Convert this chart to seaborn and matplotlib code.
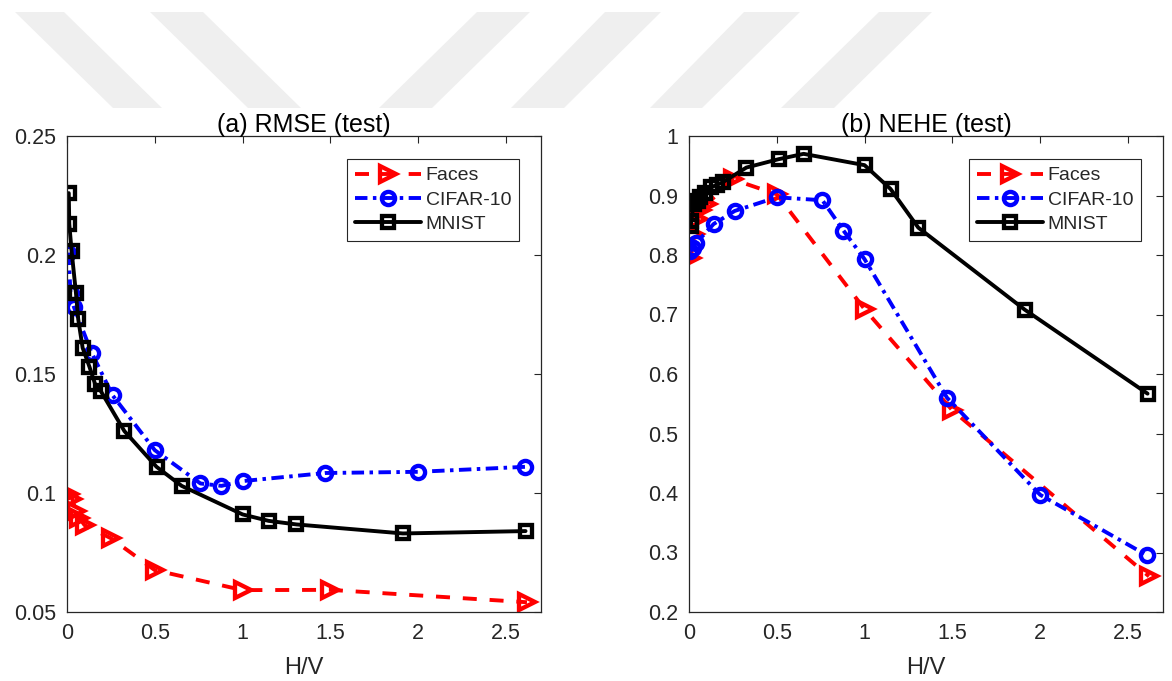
import numpy as np
import pandas as pd
import matplotlib
matplotlib.use("Agg")
import matplotlib.pyplot as plt
from matplotlib.patches import Polygon
import seaborn as sns

# ---------------- data ----------------
faces_x = [0.01, 0.03, 0.05, 0.07, 0.10, 0.25, 0.50, 1.00, 1.50, 2.62]
faces_rmse = [0.0995, 0.0975, 0.0925, 0.0895, 0.0865, 0.0810, 0.0676, 0.0592, 0.0593, 0.0541]
faces_nehe = [0.795, 0.835, 0.860, 0.875, 0.885, 0.927, 0.902, 0.709, 0.539, 0.260]

cifar_x = [0.008, 0.02, 0.04, 0.14, 0.26, 0.50, 0.76, 0.88, 1.00, 1.47, 2.00, 2.61]
cifar_rmse = [0.201, 0.184, 0.178, 0.159, 0.141, 0.118, 0.104, 0.103, 0.105, 0.1084, 0.1089, 0.111]
cifar_nehe = [0.806, 0.812, 0.820, 0.852, 0.874, 0.897, 0.892, 0.841, 0.793, 0.560, 0.397, 0.295]

mnist_x = [0.010, 0.013, 0.026, 0.051, 0.064, 0.089, 0.128, 0.159, 0.191, 0.327,
           0.510, 0.653, 1.000, 1.148, 1.306, 1.913, 2.612]
mnist_rmse = [0.226, 0.213, 0.2018, 0.184, 0.173, 0.161, 0.153, 0.146, 0.143, 0.126,
              0.111, 0.103, 0.091, 0.0883, 0.0868, 0.0830, 0.0840]
mnist_nehe = [0.848, 0.857, 0.885, 0.891, 0.897, 0.905, 0.914, 0.918, 0.922, 0.947,
              0.961, 0.970, 0.951, 0.911, 0.846, 0.708, 0.567]

series_names = ["Faces", "CIFAR-10", "MNIST"]
titles = ["(a) RMSE (test)", "(b) NEHE (test)"]
x_label = "H/V"
x_ticks = [0, 0.5, 1, 1.5, 2, 2.5]
x_tick_labels = ["0", "0.5", "1", "1.5", "2", "2.5"]
y_ticks_a = [0.05, 0.10, 0.15, 0.20, 0.25]
y_tick_labels_a = ["0.05", "0.1", "0.15", "0.2", "0.25"]
y_ticks_b = [0.2, 0.3, 0.4, 0.5, 0.6, 0.7, 0.8, 0.9, 1.0]
y_tick_labels_b = ["0.2", "0.3", "0.4", "0.5", "0.6", "0.7", "0.8", "0.9", "1"]

# ---------------- style ----------------
sns.set_theme(style="white")
plt.rcParams["font.family"] = ["Liberation Sans", "DejaVu Sans"]
FS_TICK = 15.5
FS_LABEL = 17
FS_TITLE = 18
FS_LEG = 14
AX_COL = "#262626"
LW = 2.8

styles = {
    "Faces": dict(color="#ff0000", marker=">", linestyle=(0, (3.6, 3.3)),
                  markersize=11, markeredgewidth=3.1),
    "CIFAR-10": dict(color="#0000ff", marker="o", linestyle=(0, (3.2, 1.4, 0.9, 1.4)),
                     markersize=9.5, markeredgewidth=3.1),
    "MNIST": dict(color="#000000", marker="s", linestyle="-",
                  markersize=8.3, markeredgewidth=3.1),
}

W, H = 1172, 681
fig = plt.figure(figsize=(W / 100, H / 100), dpi=100)
fig.patch.set_facecolor("white")

# faint watermark stripes at the top of the page (pixel coords from top-left)
stripes = [
    [(15, 12), (64, 12), (162, 108), (113, 108)],
    [(150, 12), (203, 12), (301, 108), (248, 108)],
    [(477, 12), (530, 12), (432, 108), (379, 108)],
    [(605, 12), (661, 12), (564, 108), (511, 108)],
    [(744, 12), (800, 12), (702, 108), (650, 108)],
    [(879, 12), (932, 12), (834, 108), (781, 108)],
]
for poly in stripes:
    pts = [(px / W, 1 - py / H) for px, py in poly]
    fig.patches.append(Polygon(pts, closed=True, transform=fig.transFigure,
                               facecolor="#efefef", edgecolor="none", zorder=0))

ax_a = fig.add_axes([67 / W, (H - 612) / H, 474 / W, 476 / H])
ax_b = fig.add_axes([689 / W, (H - 612) / H, 474 / W, 476 / H])

data_a = {"Faces": (faces_x, faces_rmse), "CIFAR-10": (cifar_x, cifar_rmse),
          "MNIST": (mnist_x, mnist_rmse)}
data_b = {"Faces": (faces_x, faces_nehe), "CIFAR-10": (cifar_x, cifar_nehe),
          "MNIST": (mnist_x, mnist_nehe)}

for ax, data, title, yt, ytl, ylim in [
    (ax_a, data_a, titles[0], y_ticks_a, y_tick_labels_a, (0.05, 0.25)),
    (ax_b, data_b, titles[1], y_ticks_b, y_tick_labels_b, (0.2, 1.0)),
]:
    for name in series_names:
        xs, ys = data[name]
        df = pd.DataFrame({"x": xs, "y": ys})
        st = styles[name]
        sns.lineplot(data=df, x="x", y="y", ax=ax, estimator=None, sort=False,
                     label=name, color=st["color"], marker=st["marker"],
                     linestyle=st["linestyle"], linewidth=LW,
                     markersize=st["markersize"], markeredgewidth=st["markeredgewidth"],
                     markerfacecolor="none", markeredgecolor=st["color"])
    ax.set_xlim(0, 2.7)
    ax.set_ylim(*ylim)
    ax.set_xticks(x_ticks)
    ax.set_xticklabels(x_tick_labels)
    ax.set_yticks(yt)
    ax.set_yticklabels(ytl)
    ax.set_xlabel(x_label, fontsize=FS_LABEL, color=AX_COL, labelpad=9)
    ax.set_ylabel("")
    ax.set_title(title, fontsize=FS_TITLE, color="black", pad=3)
    ax.tick_params(axis="both", which="both", direction="in", length=5, width=0.8,
                   colors=AX_COL, labelsize=FS_TICK, top=True, right=True,
                   labeltop=False, labelright=False)
    ax.tick_params(axis="x", pad=8)
    ax.tick_params(axis="y", pad=8)
    for sp in ax.spines.values():
        sp.set_visible(True)
        sp.set_color(AX_COL)
        sp.set_linewidth(0.9)
    ax.set_facecolor("white")
    leg = ax.legend(loc="upper right", bbox_to_anchor=(1 - 22 / 474, 1 - 23 / 476),
                    borderaxespad=0, fontsize=FS_LEG, frameon=True, fancybox=False,
                    framealpha=1, edgecolor=AX_COL, handlelength=3.4,
                    handletextpad=0.25, borderpad=0.4, labelspacing=0.35,
                    numpoints=1)
    leg.get_frame().set_linewidth(0.8)

fig.savefig("out.png", dpi=100, facecolor="white")
